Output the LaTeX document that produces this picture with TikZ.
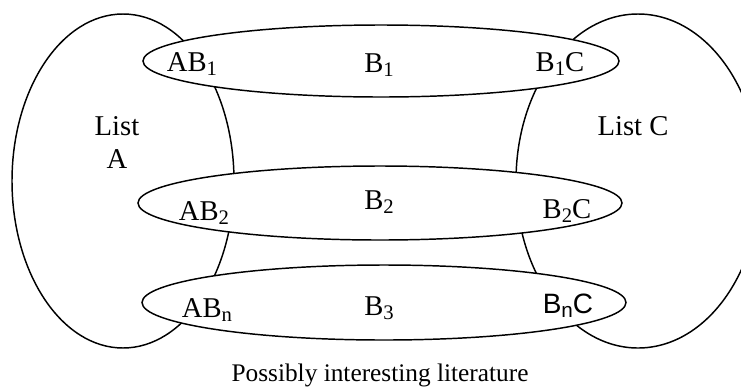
\documentclass[tikz,border=0pt]{standalone}
\usepackage{fontspec}
\setmainfont{Liberation Serif}
\newfontfamily\arialfont{Liberation Sans}
% lowered, smaller index after a letter
\newcommand\idx[1]{\raisebox{-0.17em}{\fontsize{15.5}{16}\selectfont #1}}
\tikzset{
  outline/.style={line width=1.1pt, draw=black},
  setbox/.style={outline, fill=white},
  lbl/.style={inner sep=0pt, anchor=base, font=\fontsize{21.5}{26}\selectfont},
}
\begin{document}
\begin{tikzpicture}[x=0.75pt, y=-0.75pt]
  \useasboundingbox (0,0) rectangle (741,390);
  \begin{scope}
    \clip (0,0) rectangle (741,390);
    % the two outer lists
    \draw[outline] (123,181) ellipse [x radius=111, y radius=167];
    \draw[outline] (638,181) ellipse [x radius=122, y radius=167];
  \end{scope}
  % the three linking sets, covering the lists
  \draw[setbox] (381,61)   ellipse [x radius=238, y radius=36];
  \draw[setbox] (380,203)  ellipse [x radius=242, y radius=37];
  \draw[setbox] (384,302.5) ellipse [x radius=242, y radius=37.5];

  % labels
  \node[lbl] (ab1) at (192,71)  {AB\idx{1}};
  \node[lbl] (b1)  at (379,72)  {B\idx{1}};
  \node[lbl] (b1c) at (560,71)  {B\idx{1}C};
  \node[lbl, align=center] (lista) at (117,168) {List\\[-1.5pt]A};
  \node[lbl] (listc) at (633,135) {List C};
  \node[lbl] (ab2) at (204,220) {AB\idx{2}};
  \node[lbl] (b2)  at (379,209) {B\idx{2}};
  \node[lbl] (b2c) at (567,218) {B\idx{2}C};
  \node[lbl] (abn) at (207,317) {AB\idx{n}};
  \node[lbl] (b3)  at (379,315) {B\idx{3}};
  \node[lbl, font=\arialfont\fontsize{21}{26}\selectfont] (bnc) at (568,313) {B\idx{n}C};
  \node[inner sep=0pt, anchor=base, font=\fontsize{19}{23}\selectfont] (caption) at (380,381) {Possibly interesting literature};
\end{tikzpicture}
\end{document}
